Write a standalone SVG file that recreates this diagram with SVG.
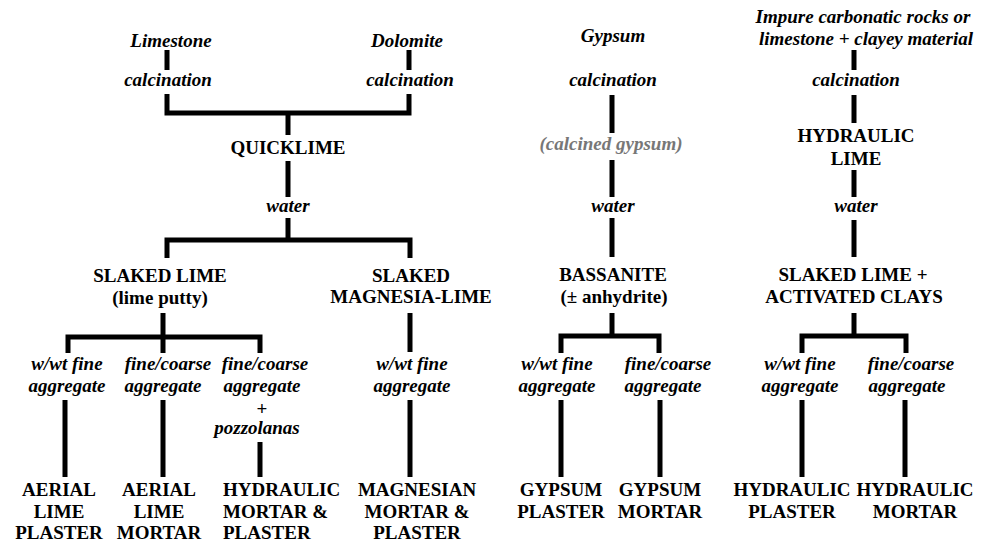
<svg xmlns="http://www.w3.org/2000/svg" width="987" height="543" viewBox="0 0 987 543">
<style>
text{font-size:19px;font-weight:bold;fill:#000;text-anchor:middle}
.i{font-style:italic}
.g{fill:#777}
.l{text-anchor:start}
.p{font-style:normal}
#connectors path{fill:none;stroke:#000;stroke-width:5;stroke-linecap:butt;stroke-linejoin:miter}
</style>
<rect width="987" height="543" fill="#fff"/>
<g id="connectors">
<path d="M167,50V70M409,50V70M167,94V113H409V94M288,113V135M288,161V197M288,218V240M167,258V240H410V258"/>
<path d="M163,313V353M68,353V337H260V353M410,313V352M65,400V477M163,400V477M260,442V477M410,400V477"/>
<path d="M612,95V133M612,160V197M612,218V257M612,313V336M561,353V336H659V353M561,400V477M660,400V477"/>
<path d="M854,50V70M854,95V123M854,170V197M854,220V257M854,313V336M802,353V336H906V353M802,400V477M905,400V477"/>
</g>
<g id="nodes" font-family="Liberation Serif, Times New Roman, serif">
<g id="limestone"><text class="i" x="171" y="47">Limestone</text></g>
<g id="calc1"><text class="i" x="168" y="86">calcination</text></g>
<g id="dolomite"><text class="i" x="407" y="47">Dolomite</text></g>
<g id="calc2"><text class="i" x="410" y="86">calcination</text></g>
<g id="quicklime"><text x="288" y="154">QUICKLIME</text></g>
<g id="water1"><text class="i" x="288" y="212">water</text></g>
<g id="slaked-lime"><text x="160" y="282">SLAKED LIME</text><text x="160" y="304">(lime putty)</text></g>
<g id="slaked-mg"><text x="411" y="282">SLAKED</text><text x="411" y="303">MAGNESIA-LIME</text></g>
<g id="agg1"><text class="i" x="67" y="370">w/wt fine</text><text class="i" x="67" y="392">aggregate</text></g>
<g id="agg2"><text class="i" x="168" y="370">fine/coarse</text><text class="i" x="163" y="392">aggregate</text></g>
<g id="agg3"><text class="i" x="265" y="370">fine/coarse</text><text class="i" x="262" y="392">aggregate</text><text class="p" x="262" y="415">+</text><text class="i" x="257" y="434">pozzolanas</text></g>
<g id="agg4"><text class="i" x="412" y="370">w/wt fine</text><text class="i" x="412" y="392">aggregate</text></g>
<g id="aerial-plaster"><text x="59" y="496">AERIAL</text><text x="59" y="518">LIME</text><text x="59" y="539">PLASTER</text></g>
<g id="aerial-mortar"><text x="159" y="496">AERIAL</text><text x="159" y="518">LIME</text><text x="159" y="539">MORTAR</text></g>
<g id="hydraulic-mp"><text class="l" x="223" y="496">HYDRAULIC</text><text class="l" x="223" y="518">MORTAR &amp;</text><text class="l" x="223" y="539">PLASTER</text></g>
<g id="magnesian"><text x="417" y="496">MAGNESIAN</text><text x="417" y="518">MORTAR &amp;</text><text x="417" y="539">PLASTER</text></g>
<g id="gypsum"><text class="i" x="613" y="42">Gypsum</text></g>
<g id="calc3"><text class="i" x="613" y="86">calcination</text></g>
<g id="calcined"><text class="i g" x="611" y="150">(calcined gypsum)</text></g>
<g id="water2"><text class="i" x="613" y="212">water</text></g>
<g id="bassanite"><text x="613" y="281">BASSANITE</text><text x="614" y="303">(± anhydrite)</text></g>
<g id="agg5"><text class="i" x="557" y="370">w/wt fine</text><text class="i" x="557" y="392">aggregate</text></g>
<g id="agg6"><text class="i" x="668" y="370">fine/coarse</text><text class="i" x="663" y="392">aggregate</text></g>
<g id="gypsum-plaster"><text x="561" y="496">GYPSUM</text><text x="561" y="518">PLASTER</text></g>
<g id="gypsum-mortar"><text x="660" y="496">GYPSUM</text><text x="660" y="518">MORTAR</text></g>
<g id="impure"><text class="i" x="863" y="23">Impure carbonatic rocks or</text><text class="i" x="866" y="45">limestone + clayey material</text></g>
<g id="calc4"><text class="i" x="856" y="86">calcination</text></g>
<g id="hyd-lime"><text x="856" y="142">HYDRAULIC</text><text x="856" y="165">LIME</text></g>
<g id="water3"><text class="i" x="856" y="212">water</text></g>
<g id="slaked-clays"><text x="853" y="281">SLAKED LIME +</text><text x="854" y="303">ACTIVATED CLAYS</text></g>
<g id="agg7"><text class="i" x="800" y="370">w/wt fine</text><text class="i" x="800" y="392">aggregate</text></g>
<g id="agg8"><text class="i" x="911" y="370">fine/coarse</text><text class="i" x="907" y="392">aggregate</text></g>
<g id="hyd-plaster"><text x="792" y="496">HYDRAULIC</text><text x="792" y="518">PLASTER</text></g>
<g id="hyd-mortar"><text x="915" y="496">HYDRAULIC</text><text x="915" y="518">MORTAR</text></g>
</g>
</svg>
